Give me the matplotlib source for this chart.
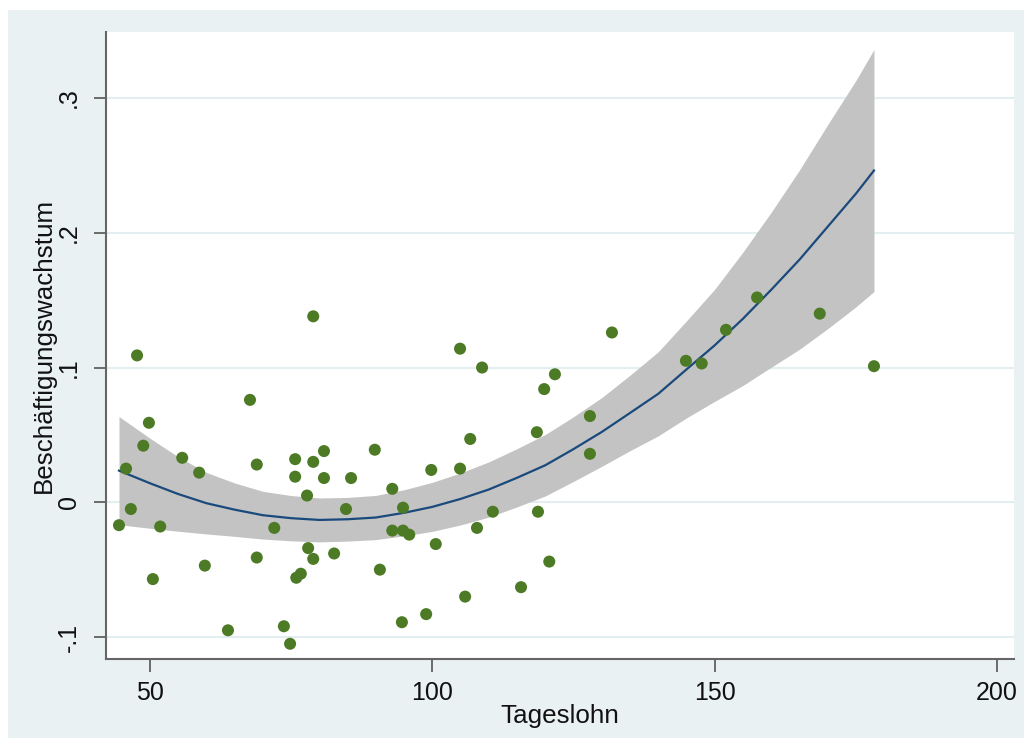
import numpy as np
import matplotlib
matplotlib.use("Agg")
import matplotlib.pyplot as plt
from matplotlib.patches import Rectangle

# Scatter data
tageslohn = [44.5, 45.75, 46.6, 47.7, 48.8, 49.8, 50.5, 51.8, 55.7, 58.7,
             59.7, 63.8, 67.7, 68.9, 68.9, 72.0, 73.7, 74.8, 75.7, 75.7,
             75.9, 76.7, 77.8, 78.0, 78.9, 78.9, 78.9, 80.8, 80.8, 82.6,
             84.7, 85.6, 89.8, 90.7, 92.9, 92.9, 94.6, 94.8, 94.8, 95.9,
             98.9, 99.8, 100.6, 104.9, 104.9, 105.8, 106.7, 107.9, 108.8, 110.7,
             115.7, 118.5, 118.7, 119.8, 120.7, 121.7, 127.9, 127.9, 131.8, 144.9,
             147.7, 152.0, 157.5, 168.6, 178.2]
wachstum = [-0.017, 0.025, -0.005, 0.109, 0.042, 0.059, -0.057, -0.018, 0.033, 0.022,
            -0.047, -0.095, 0.076, 0.028, -0.041, -0.019, -0.092, -0.105, 0.032, 0.019,
            -0.056, -0.053, 0.005, -0.034, 0.138, 0.030, -0.042, 0.038, 0.018, -0.038,
            -0.005, 0.018, 0.039, -0.050, 0.010, -0.021, -0.089, -0.004, -0.021, -0.024,
            -0.083, 0.024, -0.031, 0.114, 0.025, -0.070, 0.047, -0.019, 0.100, -0.007,
            -0.063, 0.052, -0.007, 0.084, -0.044, 0.095, 0.064, 0.036, 0.126, 0.105,
            0.103, 0.128, 0.152, 0.140, 0.101]

# Quadratic fit line and its 95% confidence band
fit_x = [44.5, 50, 55, 60, 65, 70, 75, 80, 85, 90, 95, 100, 105, 110, 115,
         120, 125, 130, 135, 140, 145, 150, 155, 160, 165, 170, 175, 178.2]
fit_y = [0.0235, 0.0141, 0.0061, -0.0007, -0.0055, -0.0096, -0.0118, -0.0131,
         -0.0126, -0.0113, -0.0078, -0.0034, 0.0025, 0.0095, 0.0182, 0.0275,
         0.0395, 0.0522, 0.0663, 0.0805, 0.0986, 0.1165, 0.1362, 0.1577,
         0.1800, 0.2045, 0.2290, 0.2462]
ci_low = [-0.0166, -0.0193, -0.0215, -0.0235, -0.0253, -0.0273, -0.0286, -0.0294,
          -0.0288, -0.0277, -0.0249, -0.0216, -0.0168, -0.0110, -0.0034, 0.0047,
          0.0155, 0.0267, 0.0383, 0.0493, 0.0626, 0.0749, 0.0867, 0.1002,
          0.1135, 0.1288, 0.1450, 0.1564]
ci_high = [0.0636, 0.0475, 0.0337, 0.0221, 0.0143, 0.0081, 0.0050, 0.0032,
           0.0036, 0.0051, 0.0093, 0.0148, 0.0218, 0.0300, 0.0398, 0.0503,
           0.0635, 0.0777, 0.0943, 0.1117, 0.1346, 0.1581, 0.1857, 0.2152,
           0.2465, 0.2802, 0.3130, 0.3360]

x_ticks = [50, 100, 150, 200]
y_ticks = [-0.1, 0.0, 0.1, 0.2, 0.3]
y_tick_labels = ["-.1", "0", ".1", ".2", ".3"]
x_label = "Tageslohn"
y_label = "Beschäftigungswachstum"

bg = "#e9f1f3"
green = "#4c7a25"
navy = "#1a4a7c"
ci_gray = "#c3c3c3"
grid_c = "#e4eef1"

plt.rcParams['font.family'] = ['Liberation Sans', 'DejaVu Sans']

fig = plt.figure(figsize=(10.24, 7.38), dpi=100, facecolor="white")
fig.patches.append(Rectangle((8 / 1024, 0), 1 - 8 / 1024, 1 - 10 / 738,
                             transform=fig.transFigure, facecolor=bg,
                             edgecolor="none", zorder=-10))
ax = fig.add_axes([106 / 1024, 1 - 659 / 738, (1014 - 106) / 1024, (659 - 32) / 738])
ax.set_facecolor("white")

ax.fill_between(fit_x, ci_low, ci_high, color=ci_gray, linewidth=0, zorder=2)
ax.plot(fit_x, fit_y, color=navy, linewidth=1.6, zorder=3)
ax.scatter(tageslohn, wachstum, s=75, color=green, edgecolors="none", zorder=4)

ax.set_xlim(42.2, 203.0)
ax.set_ylim(-0.1163, 0.349)
ax.set_xticks(x_ticks)
ax.set_yticks(y_ticks)
ax.set_yticklabels(y_tick_labels, rotation=90, va="center")
ax.tick_params(axis="both", labelsize=18, length=9, width=1.2, color="#555555",
               labelcolor="#111111")
ax.tick_params(axis="y", pad=9)
ax.tick_params(axis="x", pad=7)
ax.grid(axis="y", color=grid_c, linewidth=1.5, zorder=0)
ax.set_axisbelow(True)
for side in ["top", "right"]:
    ax.spines[side].set_visible(False)
for side in ["left", "bottom"]:
    ax.spines[side].set_color("#666666")
    ax.spines[side].set_linewidth(1.5)

ax.set_xlabel(x_label, fontsize=18.7, color="#111111", labelpad=-1)
ax.set_ylabel(y_label, fontsize=18.7, color="#111111", labelpad=1)

fig.savefig("out.png", dpi=100, facecolor=fig.get_facecolor())
